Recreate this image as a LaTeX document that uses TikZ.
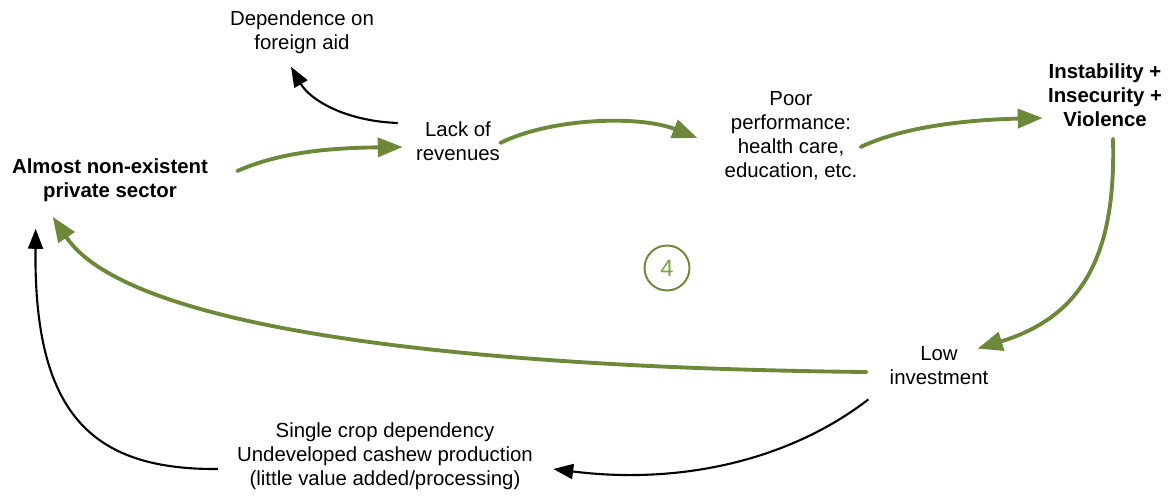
\documentclass[tikz,border=0pt]{standalone}
\usepackage{fontspec}
\setmainfont{Liberation Sans}
\usepackage{tikz}
\usetikzlibrary{arrows.meta, positioning}
\usepackage{xcolor}
\definecolor{loopgreen}{RGB}{108,136,56}
\definecolor{looplabel}{RGB}{128,160,72}

\begin{document}
\begin{tikzpicture}[x=0.02cm, y=-0.02cm,
		txt/.style={inner sep=0pt, align=center, font=\fontsize{11.6}{13.6}\selectfont},
		boldtxt/.style={txt, font=\fontsize{11.6}{13.6}\selectfont\bfseries},
		greenarrow/.style={draw=loopgreen, line width=2.2pt, line cap=round, -{Triangle[length=0.5cm, width=0.38cm]}},
		blackarrow/.style={draw=black, line width=1.2pt, -{Triangle[length=0.4cm, width=0.3cm]}}]
	\useasboundingbox (0,0) rectangle (1169,496);

	\node[boldtxt] (priv) at (110,180) {Almost non-existent\\private sector};
	\node[txt] (aid) at (302,32) {Dependence on\\foreign aid};
	\node[txt] (lack) at (458,141) {Lack of\\revenues};
	\node[txt] (poor) at (791,136) {Poor\\performance:\\health care,\\education, etc.};
	\node[boldtxt] (inst) at (1105,95) {Instability +\\Insecurity +\\Violence};
	\node[txt] (low) at (939,366) {Low\\investment};
	\node[txt] (crop) at (385,456) {Single crop dependency\\Undeveloped cashew production\\(little value added/processing)};
	\node[circle, draw=loopgreen, line width=1.1pt, minimum size=0.9cm, inner sep=0pt, text=looplabel, font=\fontsize{13.5}{16}\selectfont] (loop) at (667,268) {4};

	\draw[blackarrow] ([shift={(-18,-18)}]lack.west) .. controls +(-53,-2) and +(19,33) .. ([shift={(-11,13)}]aid.south);
	\draw[greenarrow] ([shift={(29,-9)}]priv.east) .. controls +(43,-19) and +(-73,1) .. ([shift={(-13,6)}]lack.west);
	\draw[greenarrow] ([shift={(0,2)}]lack.east) .. controls +(50,-25) and +(-58,-23) .. ([shift={(-27,2)}]poor.west);
	\draw[greenarrow] ([shift={(3,11)}]poor.east) .. controls +(40,-19) and +(-83,2) .. ([shift={(-5,23)}]inst.west);
	\draw[greenarrow] ([shift={(8,12)}]inst.south) .. controls +(3,112) and +(108,-33) .. ([shift={(-11,2)}]low.north east);
	\draw[greenarrow] ([shift={(-23,6)}]low.west) .. controls +(-387,-4) and +(77,115) .. ([shift={(41,15)}]priv.south west);
	\draw[blackarrow] ([shift={(-21,14)}]low.south west) .. controls +(-79,61) and +(127,16) .. ([shift={(20,13)}]crop.east);
	\draw[blackarrow] ([shift={(-19,13)}]crop.west) .. controls +(-128,1) and +(-2,183) .. ([shift={(24,27)}]priv.south west);
\end{tikzpicture}
\end{document}
